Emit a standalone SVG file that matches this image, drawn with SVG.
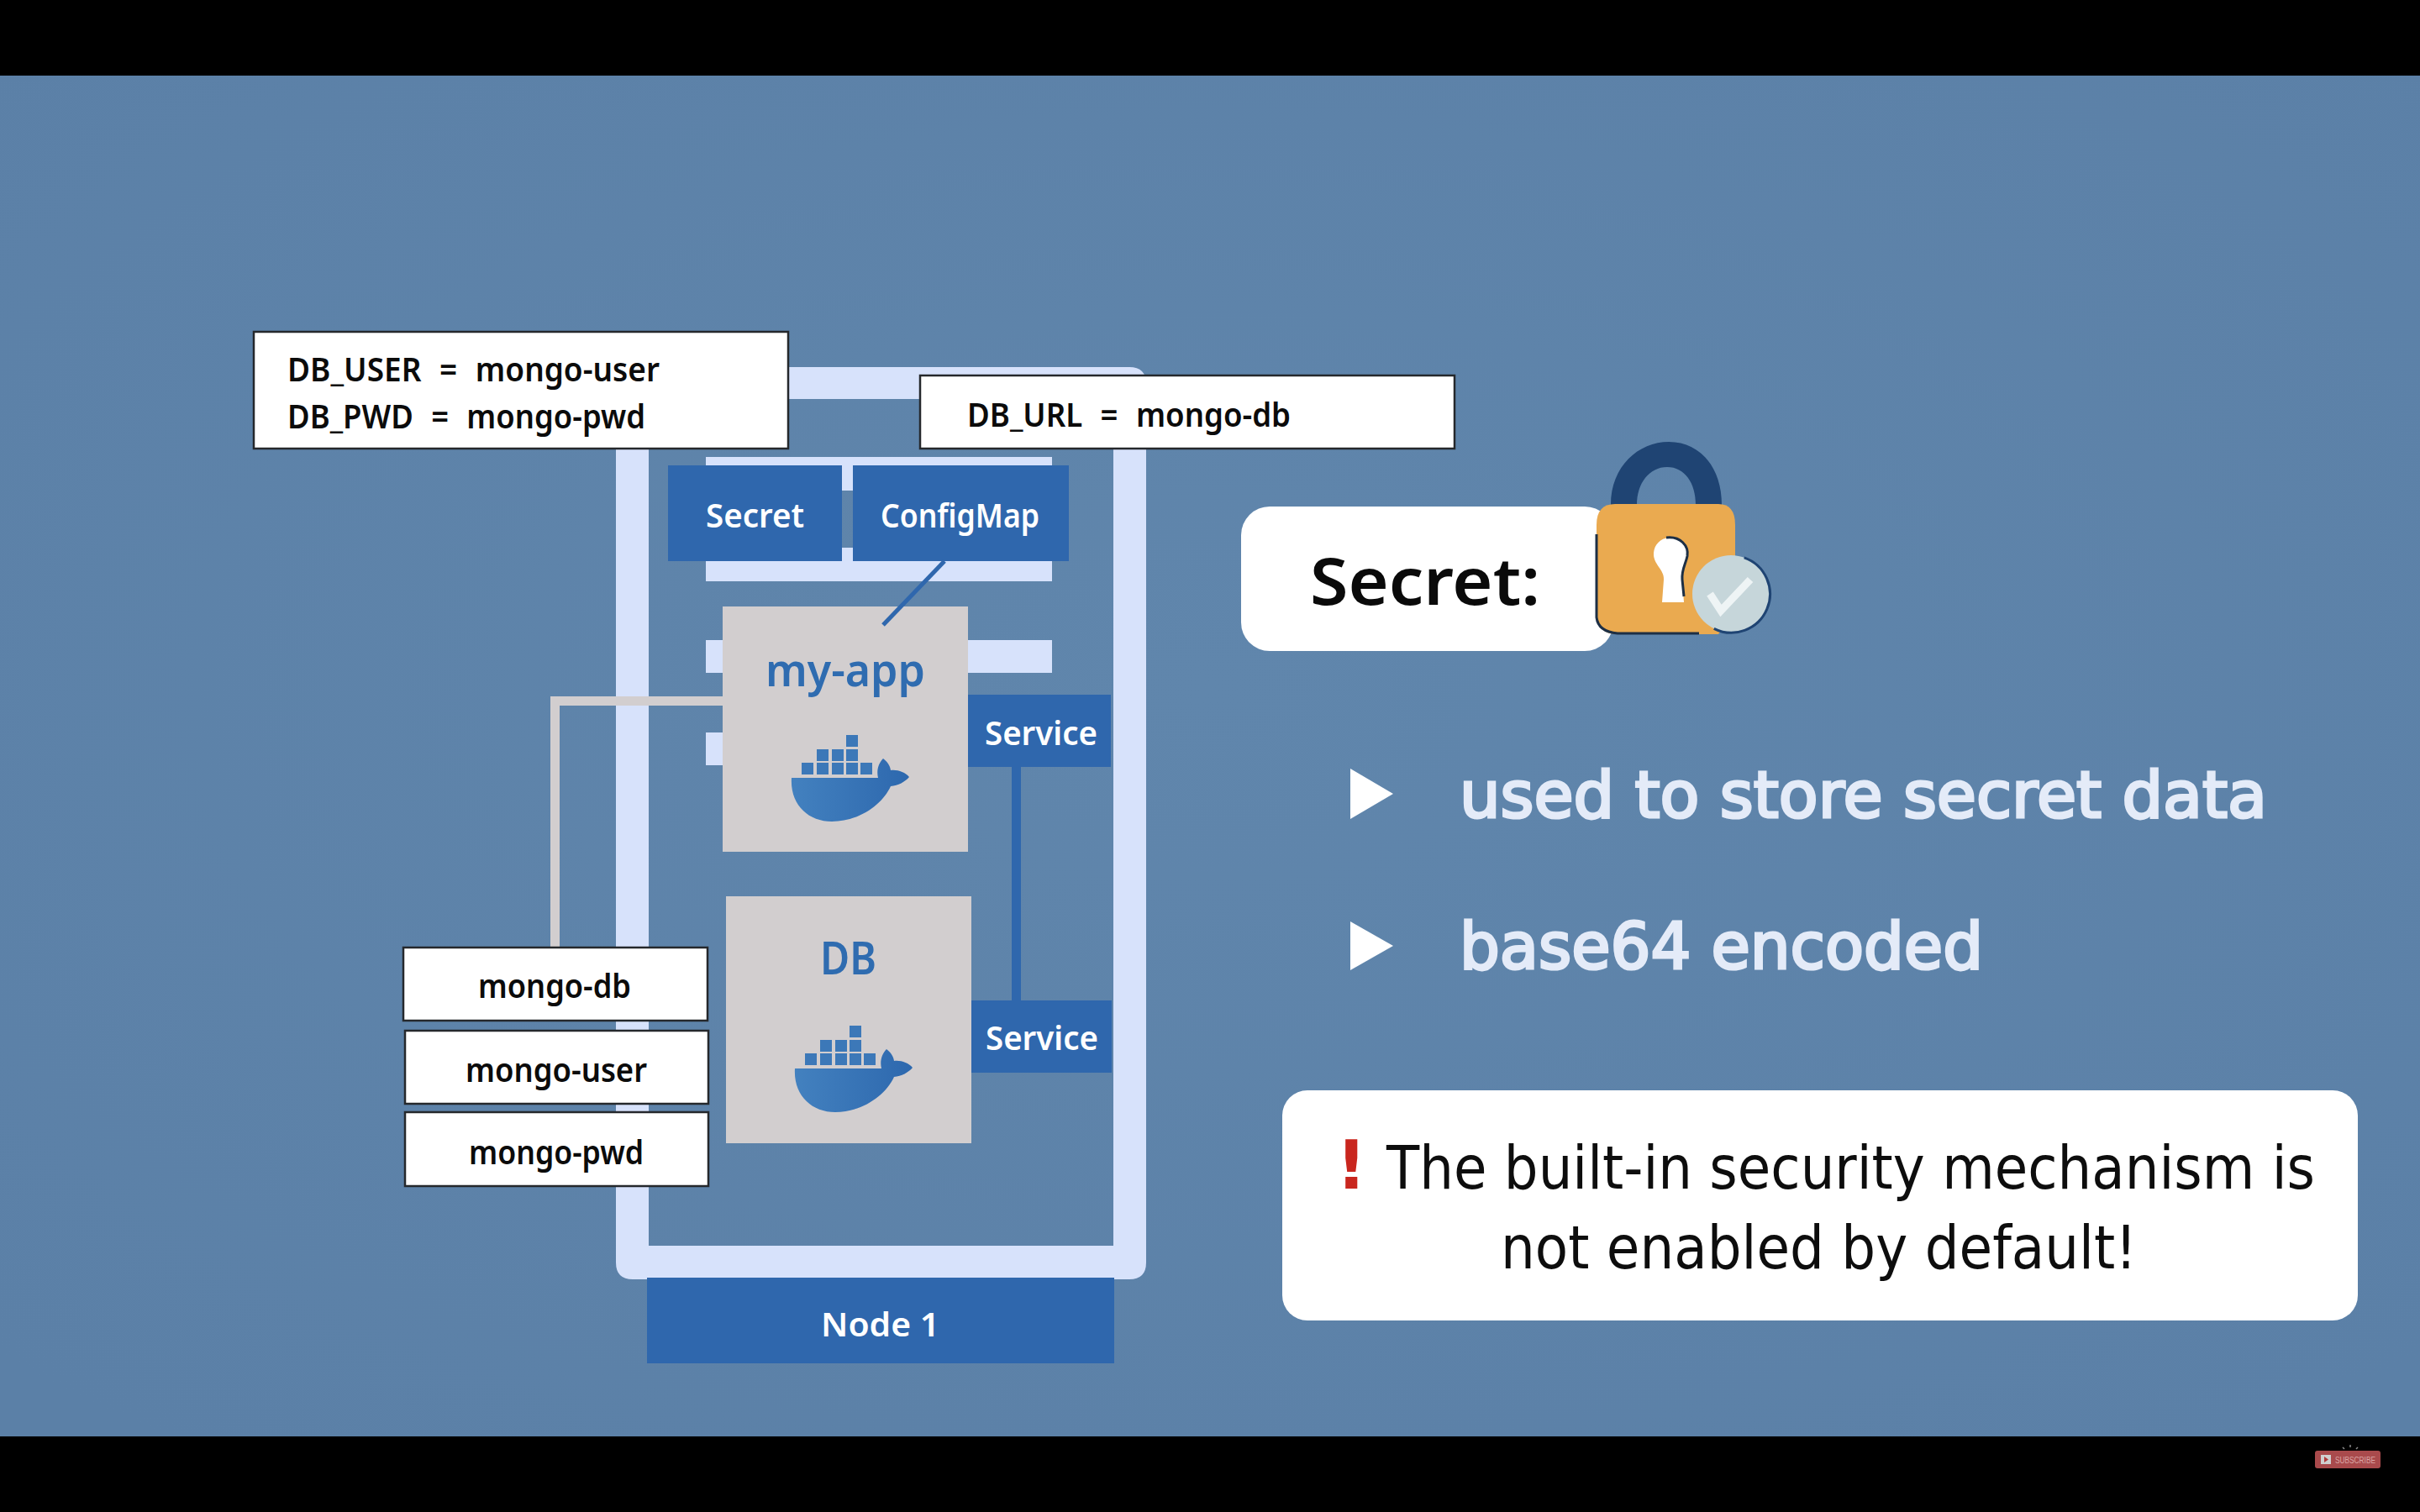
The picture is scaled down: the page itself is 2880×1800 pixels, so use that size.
<svg xmlns="http://www.w3.org/2000/svg" width="2880" height="1800" viewBox="0 0 2880 1800">
<style>
.hand{font-family:"Noto Sans","DejaVu Sans",sans-serif;font-weight:600;font-size:40px}
.eq{word-spacing:13px}
.big{font-size:54px}
.ink{fill:#0b0b0b}.paper{fill:#fff;stroke:#25282c;stroke-width:2.5}
.blue{fill:#2f67ad}.grey{fill:#d2cecf}.lite{fill:#d7e2fb}.w{fill:#fff}.app{fill:#2f6cb0}
.body{font-family:"DejaVu Sans",sans-serif;font-size:76px;fill:#e4ebf8;stroke:#e4ebf8;stroke-width:3.2}
.note{font-family:"DejaVu Sans",sans-serif;font-size:72px;fill:#0d0d0d}
</style>
<defs>
<radialGradient id="bg" cx="50%" cy="45%" r="70%"><stop offset="0" stop-color="#6086ac"/><stop offset="1" stop-color="#5b80a7"/></radialGradient>
<linearGradient id="hull" x1="0" y1="0" x2="1" y2="0"><stop offset="0" stop-color="#4381bf"/><stop offset="1" stop-color="#2d68ae"/></linearGradient>
<g id="whale">
<path fill="url(#hull)" d="M942 926H1045C1043 918 1045 909 1051 903C1056 907 1059 911 1060 917C1068 916 1077 919 1082 925C1077 931 1069 935 1060 936C1050 958 1022 978 990 978C962 978 940 958 942 926Z"/>
<g fill="#3c78b8">
<rect x="954" y="908" width="14" height="14"/><rect x="972" y="908" width="14" height="14"/><rect x="990" y="908" width="14" height="14"/><rect x="1007" y="908" width="14" height="14"/><rect x="1024" y="908" width="14" height="14"/>
<rect x="972" y="892" width="14" height="14"/><rect x="990" y="892" width="14" height="14"/><rect x="1007" y="892" width="14" height="14"/>
<rect x="1007" y="875" width="14" height="14"/>
</g>
</g>
</defs>
<rect width="2880" height="1800" fill="#000"/>
<rect y="90" width="2880" height="1620" fill="url(#bg)"/>

<g id="node-frame">
<path class="lite" fill-rule="evenodd" d="M753 437H1344Q1364 437 1364 457V1503Q1364 1523 1344 1523H753Q733 1523 733 1503V457Q733 437 753 437ZM772 475V1483H1325V475Z"/>
<rect class="lite" x="840" y="544" width="412" height="40"/>
<rect class="lite" x="840" y="652" width="412" height="40"/>
<rect class="lite" x="840" y="762" width="412" height="39"/>
<rect class="lite" x="840" y="872" width="412" height="39"/>
</g>

<g id="env-secret">
<rect class="paper" x="302" y="395" width="636" height="139"/>
<text class="hand ink eq" x="342" y="454" textLength="443" lengthAdjust="spacingAndGlyphs">DB_USER = mongo-user</text>
<text class="hand ink eq" x="342" y="510" textLength="426" lengthAdjust="spacingAndGlyphs">DB_PWD = mongo-pwd</text>
</g>
<g id="env-config">
<rect class="paper" x="1095" y="447" width="636" height="87"/>
<text class="hand ink eq" x="1151" y="508" textLength="385" lengthAdjust="spacingAndGlyphs">DB_URL = mongo-db</text>
</g>
<g id="secret">
<rect class="blue" x="795" y="554" width="207" height="114"/>
<text class="hand w" x="840" y="628" textLength="117" lengthAdjust="spacingAndGlyphs">Secret</text>
</g>
<g id="configmap">
<rect class="blue" x="1015" y="554" width="257" height="114"/>
<text class="hand w" x="1048" y="628" textLength="189" lengthAdjust="spacingAndGlyphs">ConfigMap</text>
</g>
<g id="my-app">
<rect class="grey" x="860" y="722" width="292" height="292"/>
<text class="hand big app" x="911" y="817" textLength="190" lengthAdjust="spacingAndGlyphs">my-app</text>
<use href="#whale"/>
</g>
<g id="service-app">
<rect class="blue" x="1152" y="827" width="170" height="86"/>
<text class="hand w" x="1172" y="887" textLength="134" lengthAdjust="spacingAndGlyphs">Service</text>
</g>
<g id="db">
<rect class="grey" x="864" y="1067" width="292" height="294"/>
<text class="hand big app" x="976" y="1160" textLength="67" lengthAdjust="spacingAndGlyphs">DB</text>
<use href="#whale" x="4" y="346"/>
</g>
<g id="service-db">
<rect class="blue" x="1156" y="1191" width="167" height="86"/>
<text class="hand w" x="1173" y="1250" textLength="134" lengthAdjust="spacingAndGlyphs">Service</text>
</g>

<g id="connectors">
<path d="M860 834.500H660.500V1128" fill="none" stroke="#d2cecf" stroke-width="11"/>
<path d="M1124 668L1051 744" fill="none" stroke="#2f67ad" stroke-width="5"/>
<path d="M1209.500 913V1191" fill="none" stroke="#2f67ad" stroke-width="11"/>
</g>

<g id="node-1">
<rect class="blue" x="770" y="1521" width="556" height="102"/>
<text class="hand w" x="977" y="1591" textLength="141" lengthAdjust="spacingAndGlyphs">Node 1</text>
</g>
<g id="mongo-db">
<rect class="paper" x="480" y="1128" width="362" height="87"/>
<text class="hand ink" x="569" y="1188" textLength="182" lengthAdjust="spacingAndGlyphs">mongo-db</text>
</g>
<g id="mongo-user">
<rect class="paper" x="482" y="1227" width="361" height="87"/>
<text class="hand ink" x="554" y="1288" textLength="216" lengthAdjust="spacingAndGlyphs">mongo-user</text>
</g>
<g id="mongo-pwd">
<rect class="paper" x="482" y="1324" width="361" height="88"/>
<text class="hand ink" x="558" y="1386" textLength="208" lengthAdjust="spacingAndGlyphs">mongo-pwd</text>
</g>

<g id="secret-title">
<rect class="w" x="1477" y="603" width="443" height="172" rx="34"/>
<text x="1559" y="720" font-family="'Noto Sans','DejaVu Sans',sans-serif" font-weight="600" font-size="78" fill="#0a0a0a" textLength="274" lengthAdjust="spacingAndGlyphs">Secret:</text>
</g>
<g id="lock">
<path d="M1986 526C2022 526 2049 555 2049 601H2018C2018 575 2005 556 1984 556C1963 556 1948 575 1948 601H1917C1917 555 1950 526 1986 526Z" fill="#1f4473"/>
<path d="M1922 600H2045Q2065 600 2065 625V730L2045 755H1925Q1900 755 1900 730V625Q1900 600 1922 600Z" fill="#eaaa50"/>
<path d="M1900 636V735Q1902 752 1925 754H2022" fill="none" stroke="#1d2f45" stroke-width="3"/>
<path d="M1986 640C2000 638 2010 650 2008 662C2006 672 2001 678 2002 690L2004 717H1978L1980 690C1981 678 1967 672 1968 658C1969 648 1976 641 1986 640Z" fill="#fff"/>
<path d="M1983 640C2000 638 2010 650 2008 662C2006 672 2001 678 2002 690L2004 710" fill="none" stroke="#1d2f45" stroke-width="3"/>
<circle cx="2060" cy="707" r="46" fill="#c6d6da"/>
<path d="M2075.700 663.800A46 46 0 1 1 2039.800 748.300" fill="none" stroke="#1f4473" stroke-width="3"/>
<path d="M2035 707L2048 727L2083 690" fill="none" stroke="#eef4f5" stroke-width="9"/>
</g>

<g id="bullet-1">
<path class="w" d="M1607 915L1658 945L1607 975Z"/>
<text class="body" x="1737" y="973" textLength="961" lengthAdjust="spacingAndGlyphs">used to store secret data</text>
</g>
<g id="bullet-2">
<path class="w" d="M1607 1097L1658 1126L1607 1155Z"/>
<text class="body" x="1737" y="1153" textLength="623" lengthAdjust="spacingAndGlyphs">base64 encoded</text>
</g>
<g id="warning">
<rect class="w" x="1526" y="1298" width="1280" height="274" rx="30"/>
<text x="1590" y="1415" font-family="'DejaVu Sans',sans-serif" font-weight="700" font-size="80" fill="#c9261e">!</text>
<text class="note" x="1650" y="1415" textLength="1105" lengthAdjust="spacingAndGlyphs">The built-in security mechanism is</text>
<text class="note" x="1786" y="1510" textLength="757" lengthAdjust="spacingAndGlyphs">not enabled by default!</text>
</g>
<g id="subscribe">
<path d="M2797 1720V1723M2788 1723L2790 1725M2806 1723L2804 1725" stroke="#8a8a8a" stroke-width="1.500" fill="none"/>
<rect x="2755" y="1727" width="78" height="21" rx="3" fill="#a94a4c"/>
<rect x="2762" y="1732" width="12" height="11" fill="#cfcfcf"/>
<path d="M2766 1734L2771 1737.500L2766 1741Z" fill="#b23a3c"/>
<text x="2779" y="1742" font-family="'Liberation Sans',sans-serif" font-size="10" fill="#dba6a6" textLength="48" lengthAdjust="spacingAndGlyphs">SUBSCRIBE</text>
</g>
</svg>
